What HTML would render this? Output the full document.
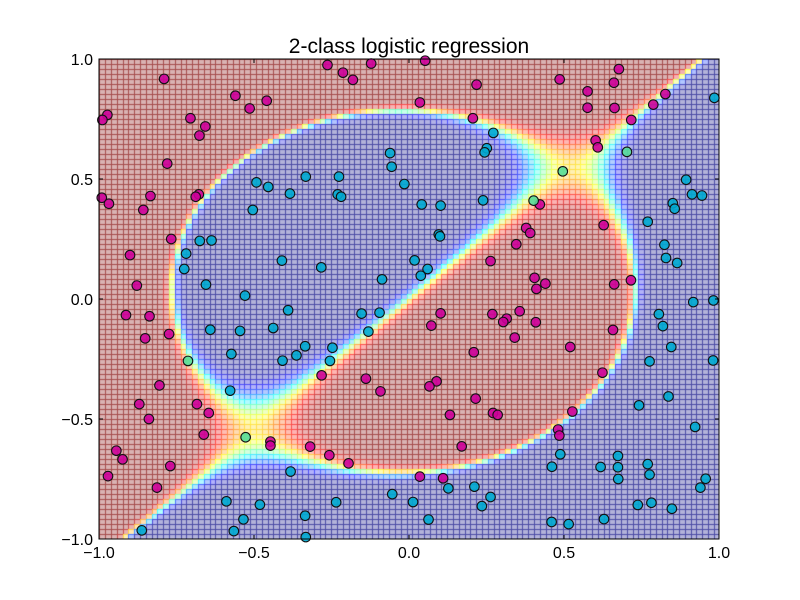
<!DOCTYPE html>
<html><head><meta charset="utf-8"><style>
html,body{margin:0;padding:0;background:#fff;width:800px;height:600px;overflow:hidden}
#wrap{position:relative;width:800px;height:600px}
canvas{position:absolute;left:99px;top:59px}
svg{position:absolute;left:0;top:0}
text{font-family:"Liberation Sans",sans-serif;fill:#000}
</style></head><body>
<div id="wrap">
<canvas id="bg" width="620" height="480"></canvas>
<svg id="chart" width="800" height="600"></svg>
</div>
<script>
// class 1 (magenta) points
const class1X = [-0.790,-0.973,-0.989,-0.705,-0.657,-0.676,-0.560,-0.514,-0.459,-0.263,-0.213,-0.181,-0.122,-0.780,-0.991,-0.968,-0.834,-0.857,-0.678,-0.688,-0.767,-0.900,-0.878,
 0.052,0.218,0.035,0.486,0.677,0.661,0.576,0.576,0.663,0.788,0.827,0.717,0.206,0.602,0.609,0.422,0.628,0.378,0.391,0.346,0.263,0.405,0.440,0.411,0.662,0.716,
 -0.913,-0.837,-0.851,-0.774,-0.805,-0.870,-0.839,-0.684,-0.646,-0.662,-0.944,-0.924,-0.971,-0.770,-0.813,-0.282,-0.139,-0.092,-0.447,-0.447,-0.319,-0.257,-0.195,
 0.102,0.072,0.269,0.315,0.304,0.357,0.409,0.341,0.209,0.520,0.658,0.624,0.089,0.066,0.215,0.132,0.271,0.286,0.527,0.481,0.485,0.170,0.035,0.110];
const class1Y = [0.917,0.767,0.746,0.753,0.719,0.681,0.847,0.794,0.826,0.975,0.943,0.913,0.981,0.564,0.422,0.397,0.429,0.371,0.436,0.426,0.250,0.183,0.056,
 0.993,0.893,0.819,0.915,0.958,0.901,0.865,0.797,0.796,0.810,0.854,0.746,0.753,0.661,0.632,0.394,0.308,0.296,0.275,0.228,0.158,0.088,0.064,0.042,0.061,0.078,
 -0.067,-0.072,-0.164,-0.146,-0.360,-0.438,-0.500,-0.438,-0.475,-0.565,-0.632,-0.668,-0.738,-0.696,-0.786,-0.318,-0.332,-0.385,-0.594,-0.611,-0.615,-0.651,-0.685,
 -0.060,-0.111,-0.063,-0.082,-0.096,-0.051,-0.097,-0.161,-0.222,-0.200,-0.129,-0.307,-0.343,-0.364,-0.415,-0.483,-0.475,-0.483,-0.469,-0.544,-0.569,-0.614,-0.740,-0.747];
// class 0 (cyan) points
const class0X = [-0.061,-0.056,-0.015,-0.492,-0.454,-0.384,-0.333,-0.226,-0.230,-0.219,-0.504,-0.675,-0.637,-0.719,-0.725,-0.655,-0.529,-0.410,-0.283,-0.087,
 0.985,0.272,0.251,0.244,0.041,0.102,0.239,0.096,0.100,0.018,0.060,0.038,0.894,0.913,0.945,0.851,0.857,0.770,0.824,0.829,0.865,
 -0.390,-0.153,-0.095,-0.641,-0.545,-0.438,-0.131,-0.335,-0.247,-0.363,-0.408,-0.255,-0.573,-0.577,-0.382,-0.054,-0.589,-0.481,-0.235,-0.335,-0.534,-0.565,-0.862,-0.333,
 0.917,0.982,0.806,0.819,0.846,0.776,0.981,0.837,0.742,0.923,0.488,0.461,0.618,0.674,0.674,0.675,0.770,0.776,0.957,0.940,0.127,0.211,0.263,0.235,0.013,0.063,0.460,0.515,0.629,0.738,0.782,0.848];
const class0Y = [0.608,0.551,0.479,0.486,0.467,0.439,0.510,0.510,0.436,0.426,0.371,0.242,0.244,0.189,0.125,0.060,0.014,0.160,0.132,0.082,
 0.838,0.692,0.628,0.611,0.394,0.389,0.411,0.269,0.261,0.161,0.125,0.097,0.497,0.436,0.431,0.399,0.376,0.322,0.226,0.171,0.150,
 -0.047,-0.061,-0.057,-0.128,-0.133,-0.121,-0.136,-0.197,-0.203,-0.235,-0.257,-0.258,-0.229,-0.382,-0.719,-0.813,-0.843,-0.857,-0.847,-0.903,-0.918,-0.967,-0.964,-0.992,
 -0.013,-0.006,-0.063,-0.113,-0.200,-0.260,-0.256,-0.406,-0.443,-0.533,-0.647,-0.699,-0.700,-0.654,-0.701,-0.750,-0.688,-0.732,-0.749,-0.786,-0.789,-0.782,-0.825,-0.863,-0.846,-0.919,-0.929,-0.938,-0.917,-0.858,-0.849,-0.874];
// uncertain (greenish) points
const midX = [0.402,0.496,0.703,-0.713,-0.527];
const midY = [0.410,0.532,0.613,-0.258,-0.576];
const xTicks = [-1.0,-0.5,0.0,0.5,1.0];
const yTicks = [-1.0,-0.5,0.0,0.5,1.0];
const xTickLabels = ["\u22121.0","\u22120.5","0.0","0.5","1.0"];
const yTickLabels = ["\u22121.0","\u22120.5","0.0","0.5","1.0"];

const L=99,R=719,T=59,B=539;
const sx=v=>L+(v+1)/2*(R-L);
const sy=v=>B-(v+1)/2*(B-T);

function jet(t){const c=v=>Math.max(0,Math.min(1,v));return [c(1.5-Math.abs(4*t-3)),c(1.5-Math.abs(4*t-2)),c(1.5-Math.abs(4*t-1))];}
function prob(x,y){
  const g=y-1.07*x+0.01;
  const h=Math.pow((x+0.025)/0.745,2)+Math.pow((y-0.035)/0.755,2)-1;
  return 1/(1+Math.exp(-(50*g*h+0.7)));
}
(function(){
  const cv=document.getElementById('bg'),ctx=cv.getContext('2d');
  const W=620,H=480,nx=107,ny=96,cw=W/nx,ch=H/ny;
  const img=ctx.createImageData(W,H);
  const cols=[];
  for(let j=0;j<ny;j++){cols.push([]);for(let i=0;i<nx;i++){
    const x=-1+(i+0.5)*2/nx,y=1-(j+0.5)*2/ny;cols[j].push(jet(prob(x,y)));}}
  for(let py=0;py<H;py++){const j=Math.min(ny-1,Math.floor(py/ch));const ly=(py-j*ch)<1;
    for(let px=0;px<W;px++){const i=Math.min(nx-1,Math.floor(px/cw));const line=ly||(px-i*cw)<1;
      const c=cols[j][i];const a=line?0.7:0.3;const k=(py*W+px)*4;
      img.data[k]=255*(1-a)+255*c[0]*a;img.data[k+1]=255*(1-a)+255*c[1]*a;img.data[k+2]=255*(1-a)+255*c[2]*a;img.data[k+3]=255;}}
  ctx.putImageData(img,0,0);
})();

const svg=document.getElementById('chart');
const NS='http://www.w3.org/2000/svg';
function mk(tag,attrs){const e=document.createElementNS(NS,tag);for(const k in attrs)e.setAttribute(k,attrs[k]);svg.appendChild(e);return e;}

function drawPts(xs,ys,fill,name){
  for(let i=0;i<xs.length;i++){
    const c=mk('circle',{cx:sx(xs[i]),cy:sy(ys[i]),r:4.8,fill:fill,'fill-opacity':0.9,stroke:'#111',"stroke-width":1.1});
    
    
  }
}
drawPts(class1X,class1Y,'#cc0099','class-1-point');
drawPts(class0X,class0Y,'#00aad0','class-0-point');
drawPts(midX,midY,'#55dd99','uncertain-point');

const frame=mk('rect',{x:L,y:T,width:R-L,height:B-T,fill:'none',stroke:'#000','stroke-width':1});



for(let i=0;i<xTicks.length;i++){
  const x=sx(xTicks[i]);
  const t1=mk('line',{x1:x,x2:x,y1:B,y2:B-4,stroke:'#000'});
  
  
  const t2=mk('line',{x1:x,x2:x,y1:T,y2:T+4,stroke:'#000'});
  
  
  const lb=mk('text',{x:x,y:558,'text-anchor':'middle','font-size':16});
  lb.textContent=xTickLabels[i];
  
  
}
for(let i=0;i<yTicks.length;i++){
  const y=sy(yTicks[i]);
  const t1=mk('line',{x1:L,x2:L+4,y1:y,y2:y,stroke:'#000'});
  
  
  const t2=mk('line',{x1:R,x2:R-4,y1:y,y2:y,stroke:'#000'});
  
  
  const lb=mk('text',{x:93,y:y+6,'text-anchor':'end','font-size':16});
  lb.textContent=yTickLabels[i];
  
  
}
const title=mk('text',{x:409,y:53,'text-anchor':'middle','font-size':21});
title.textContent='2-class logistic regression';


</script>
</body></html>
